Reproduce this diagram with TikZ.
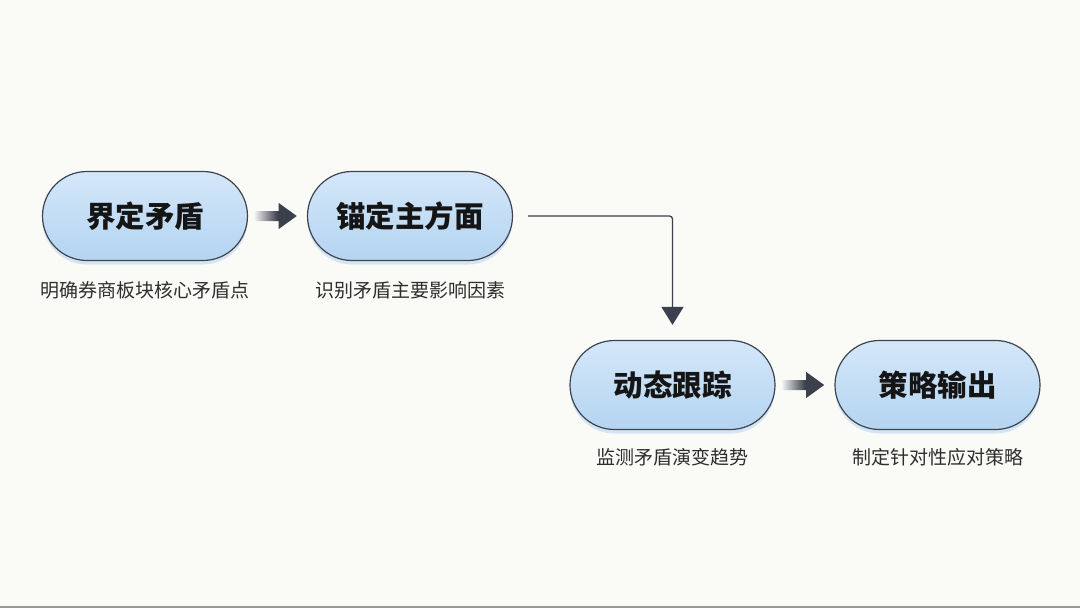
\documentclass[tikz,border=0pt]{standalone}
\usepackage{fontspec}
\setmainfont{Noto Sans CJK SC}
\usetikzlibrary{shapes.misc,shadows,arrows.meta,calc}
\definecolor{bgc}{HTML}{FAFAF7}
\definecolor{pilltop}{HTML}{D4E7F9}
\definecolor{pillbot}{HTML}{B4D4F1}
\definecolor{pillline}{HTML}{3E4350}
\definecolor{glow}{HTML}{A8CBEC}
\definecolor{darkarr}{HTML}{3B404C}
\definecolor{subtxt}{HTML}{2E2E2E}
\definecolor{titletxt}{HTML}{151515}
\pgfdeclarehorizontalshading{arrowshade}{100bp}{color(0bp)=(black!6); color(25bp)=(black!6); color(52bp)=(darkarr); color(100bp)=(darkarr)}
\tikzset{
  pill/.style={rounded rectangle, draw=pillline, line width=1.2pt,
    top color=pilltop, bottom color=pillbot,
    minimum width=205pt, minimum height=89pt, inner sep=0pt,
    font=\bfseries\fontsize{29.5}{32}\selectfont, text=titletxt,
    drop shadow={shadow xshift=0pt, shadow yshift=-4pt, fill=glow, opacity=0.45}},
  sub/.style={font=\fontsize{19}{22}\selectfont, text=subtxt, inner sep=0pt},
  conn/.style={draw=darkarr, line width=1.3pt, rounded corners=3pt,
    -{Triangle[length=18pt,width=22pt]}, shorten <=15pt, shorten >=15pt}
}
\newcommand{\thickarrow}[2]{%
  \shade[shading=arrowshade]
    ($(#1)+(-21,-5)$) -- ($(#1)+(3,-5)$) -- ($(#1)+(3,-13)$) -- ($(#1)+(21,0)$)
    -- ($(#1)+(3,13)$) -- ($(#1)+(3,5)$) -- ($(#1)+(-21,5)$) -- cycle;}
\begin{document}
\begin{tikzpicture}[x=1pt,y=-1pt]
\fill[bgc] (0,0) rectangle (1080,608);
\useasboundingbox (0,0) rectangle (1080,608);
\fill[black!40] (0,605.5) rectangle (1080,608);

\node[pill] (n1) at (145,216) {界定矛盾};
\node[pill] (n2) at (410,216) {锚定主方面};
\node[pill] (n3) at (672.5,385) {动态跟踪};
\node[pill] (n4) at (937.5,385) {策略输出};

\node[sub] (s1) at ($(n1.south)+(0,29)$) {明确券商板块核心矛盾点};
\node[sub] (s2) at ($(n2.south)+(0,29)$) {识别矛盾主要影响因素};
\node[sub] (s3) at ($(n3.south)+(0,27)$) {监测矛盾演变趋势};
\node[sub] (s4) at ($(n4.south)+(0,27)$) {制定针对性应对策略};

\coordinate (a1) at ($(n1.east)!0.47!(n2.west)$);
\coordinate (a2) at ($(n3.east)!0.47!(n4.west)$);
\thickarrow{a1}{}
\thickarrow{a2}{}

\draw[conn] (n2.east) -| (n3.north);
\end{tikzpicture}
\end{document}
